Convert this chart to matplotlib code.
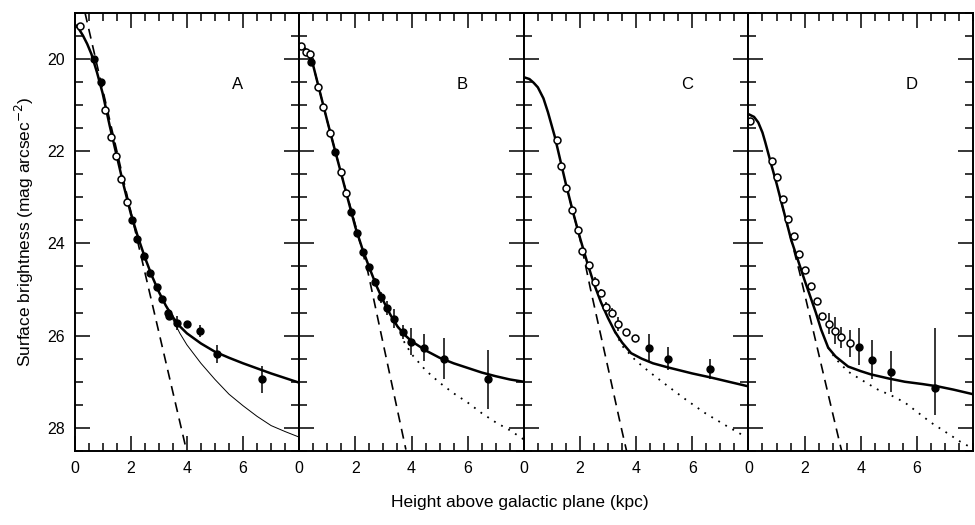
import numpy as np
import matplotlib.pyplot as plt
from matplotlib.ticker import MultipleLocator

plt.rcParams['font.family'] = ['Liberation Sans', 'DejaVu Sans']

panels = ['A', 'B', 'C', 'D']

# Data points (height in kpc, surface brightness in mag/arcsec^2)
# filled = 1 for filled circles, 0 for open
a_x = [0.18, 0.68, 0.93, 1.10, 1.28, 1.46, 1.67, 1.88, 2.06, 2.24, 2.46, 2.67, 2.92, 3.10, 3.31, 3.38, 3.63, 3.99, 4.45, 5.09, 6.69]
a_y = [19.30, 20.00, 20.50, 21.10, 21.70, 22.10, 22.60, 23.10, 23.50, 23.90, 24.28, 24.65, 24.95, 25.20, 25.50, 25.57, 25.72, 25.74, 25.90, 26.40, 26.95]
a_err = [0, 0, 0, 0, 0, 0, 0, 0, 0, 0, 0, 0, 0, 0, 0, 0, 0.15, 0.05, 0.12, 0.2, 0.3]
a_fill = [0, 1, 1, 0, 0, 0, 0, 0, 1, 1, 1, 1, 1, 1, 1, 1, 1, 1, 1, 1, 1]

b_x = [0.07, 0.25, 0.39, 0.43, 0.67, 0.85, 1.10, 1.28, 1.49, 1.67, 1.85, 2.06, 2.27, 2.50, 2.70, 2.92, 3.13, 3.36, 3.69, 3.98, 4.43, 5.14, 6.74]
b_y = [19.73, 19.86, 19.90, 20.07, 20.62, 21.05, 21.60, 22.03, 22.45, 22.90, 23.33, 23.77, 24.18, 24.52, 24.83, 25.17, 25.40, 25.63, 25.93, 26.13, 26.26, 26.50, 26.95]
b_err = [0, 0, 0, 0, 0, 0, 0, 0, 0, 0, 0, 0, 0, 0, 0.08, 0.12, 0.15, 0.2, 0.15, 0.3, 0.3, 0.45, 0.63]
b_fill = [0, 0, 0, 1, 0, 0, 0, 1, 0, 0, 1, 1, 1, 1, 1, 1, 1, 1, 1, 1, 1, 1, 1]

c_x = [1.18, 1.31, 1.50, 1.71, 1.93, 2.07, 2.32, 2.53, 2.75, 2.93, 3.14, 3.36, 3.64, 3.96, 4.46, 5.14, 6.64]
c_y = [21.77, 22.33, 22.80, 23.27, 23.72, 24.17, 24.48, 24.83, 25.07, 25.37, 25.50, 25.74, 25.93, 26.06, 26.26, 26.50, 26.72]
c_err = [0, 0, 0, 0, 0, 0, 0.08, 0.1, 0.08, 0.1, 0.1, 0.15, 0, 0, 0.3, 0.25, 0.22]
c_fill = [0, 0, 0, 0, 0, 0, 0, 0, 0, 0, 0, 0, 0, 0, 1, 1, 1]

d_x = [0.07, 0.85, 1.03, 1.24, 1.42, 1.63, 1.81, 2.02, 2.23, 2.45, 2.62, 2.87, 3.08, 3.30, 3.62, 3.94, 4.40, 5.07, 6.63]
d_y = [21.35, 22.22, 22.57, 23.03, 23.48, 23.85, 24.24, 24.58, 24.93, 25.26, 25.57, 25.74, 25.89, 26.04, 26.17, 26.24, 26.52, 26.78, 27.13]
d_err_lo = [0, 0, 0, 0, 0, 0, 0, 0, 0, 0, 0, 0.23, 0.3, 0.23, 0.29, 0.4, 0.42, 0.44, 1.3]
d_err_hi = [0, 0, 0, 0, 0, 0, 0, 0, 0, 0, 0, 0.23, 0.3, 0.23, 0.29, 0.4, 0.42, 0.44, 0.6]
d_fill = [0, 0, 0, 0, 0, 0, 0, 0, 0, 0, 0, 0, 0, 0, 0, 1, 1, 1, 1]

# Model curves
a_tot_x = [0.0, 0.15, 0.3, 0.45, 0.6, 0.8, 1.0, 1.25, 1.5, 1.75, 2.0, 2.25, 2.5, 2.75, 3.0, 3.25, 3.5, 3.75, 4.0, 4.5, 5.0, 5.5, 6.0, 6.5, 7.0, 7.5, 8.0]
a_tot_y = [19.25, 19.35, 19.5, 19.68, 19.9, 20.3, 20.75, 21.45, 22.1, 22.75, 23.35, 23.85, 24.3, 24.7, 25.05, 25.35, 25.6, 25.8, 25.95, 26.17, 26.35, 26.48, 26.6, 26.71, 26.82, 26.92, 27.02]
a_thin_x = [3.0, 3.25, 3.5, 3.75, 4.0, 4.5, 5.0, 5.5, 6.0, 6.5, 7.0, 7.5, 8.0]
a_thin_y = [25.05, 25.35, 25.65, 25.95, 26.2, 26.6, 26.95, 27.27, 27.52, 27.75, 27.95, 28.08, 28.2]
a_dash_x = [0.37, 2.3, 3.99]
a_dash_y = [19.0, 24.1, 28.5]

b_tot_x = [0.0, 0.15, 0.3, 0.5, 0.75, 1.0, 1.25, 1.5, 1.75, 2.0, 2.25, 2.5, 2.75, 3.0, 3.25, 3.5, 3.75, 4.0, 4.5, 5.0, 5.5, 6.0, 6.5, 7.0, 7.5, 8.0]
b_tot_y = [19.69, 19.74, 19.85, 20.15, 20.75, 21.35, 21.93, 22.5, 23.08, 23.65, 24.12, 24.53, 24.92, 25.25, 25.55, 25.8, 25.98, 26.12, 26.32, 26.48, 26.6, 26.7, 26.8, 26.88, 26.95, 27.0]
b_dot_x = [3.5, 3.75, 4.0, 4.5, 5.0, 5.5, 6.0, 6.5, 7.0, 7.5, 8.0]
b_dot_y = [25.8, 26.15, 26.4, 26.75, 27.02, 27.25, 27.45, 27.68, 27.88, 28.05, 28.25]
b_dash_x = [0.0, 0.3, 0.5, 1.0, 1.5, 2.0, 2.45, 3.0, 3.5, 3.8]
b_dash_y = [19.69, 19.85, 20.15, 21.35, 22.5, 23.6, 24.63, 26.2, 27.62, 28.47]

c_tot_x = [0.0, 0.2, 0.35, 0.5, 0.7, 0.86, 1.1, 1.3, 1.5, 1.75, 2.0, 2.25, 2.5, 2.75, 3.0, 3.25, 3.5, 3.82, 4.2, 4.6, 5.14, 6.0, 6.68, 7.3, 8.0]
c_tot_y = [20.4, 20.44, 20.52, 20.62, 20.86, 21.16, 21.68, 22.2, 22.72, 23.32, 23.88, 24.4, 24.88, 25.28, 25.62, 25.92, 26.15, 26.38, 26.5, 26.6, 26.69, 26.82, 26.91, 27.0, 27.1]
c_dot_x = [3.25, 3.5, 4.0, 4.5, 5.14, 5.8, 6.46, 7.2, 7.89]
c_dot_y = [25.92, 26.22, 26.55, 26.8, 27.1, 27.4, 27.68, 27.95, 28.19]
c_dash_x = [1.5, 1.75, 2.0, 2.36, 3.0, 3.46, 3.66]
c_dash_y = [22.72, 23.32, 23.9, 24.95, 26.7, 27.97, 28.5]

d_tot_x = [0.0, 0.2, 0.35, 0.5, 0.6, 0.83, 1.0, 1.17, 1.35, 1.52, 1.81, 2.0, 2.23, 2.4, 2.59, 2.84, 3.1, 3.55, 4.0, 4.36, 5.0, 5.57, 6.2, 6.74, 7.3, 8.0]
d_tot_y = [21.2, 21.26, 21.38, 21.6, 21.81, 22.33, 22.7, 23.1, 23.52, 23.92, 24.45, 24.8, 25.2, 25.5, 25.87, 26.26, 26.45, 26.67, 26.77, 26.84, 26.93, 27.0, 27.05, 27.1, 27.17, 27.27]
d_dot_x = [2.84, 3.1, 3.55, 4.0, 4.61, 5.1, 5.57, 6.0, 6.49, 7.0, 7.55, 8.0]
d_dot_y = [26.26, 26.5, 26.78, 26.95, 27.17, 27.3, 27.45, 27.65, 27.88, 28.08, 28.3, 28.45]
d_dash_x = [1.17, 1.52, 1.81, 2.13, 2.6, 3.08, 3.32]
d_dash_y = [23.1, 23.92, 24.6, 25.43, 26.65, 27.89, 28.5]

panel_x = [a_x, b_x, c_x, d_x]
panel_y = [a_y, b_y, c_y, d_y]
panel_err = [[a_err, a_err], [b_err, b_err], [c_err, c_err], [d_err_lo, d_err_hi]]
panel_fill = [a_fill, b_fill, c_fill, d_fill]
tot_x = [a_tot_x, b_tot_x, c_tot_x, d_tot_x]
tot_y = [a_tot_y, b_tot_y, c_tot_y, d_tot_y]
dash_x = [a_dash_x, b_dash_x, c_dash_x, d_dash_x]
dash_y = [a_dash_y, b_dash_y, c_dash_y, d_dash_y]
dot_x = [a_thin_x, b_dot_x, c_dot_x, d_dot_x]
dot_y = [a_thin_y, b_dot_y, c_dot_y, d_dot_y]

fig = plt.figure(figsize=(9.75, 5.25), dpi=100)
axes = fig.subplots(1, 4, sharey=True, gridspec_kw=dict(wspace=0))
fig.subplots_adjust(left=0.0765, right=0.998, top=0.976, bottom=0.141)

for i, ax in enumerate(axes):
    ax.plot(tot_x[i], tot_y[i], color='black', lw=1.8)
    ax.plot(dash_x[i], dash_y[i], color='black', lw=1.2, dashes=(6, 4))
    if i == 0:
        ax.plot(dot_x[i], dot_y[i], color='black', lw=0.7)
    else:
        ax.plot(dot_x[i], dot_y[i], color='black', lw=1.3, dashes=(1, 3.5))

    x = np.array(panel_x[i])
    y = np.array(panel_y[i])
    lo = np.array(panel_err[i][0])
    hi = np.array(panel_err[i][1])
    f = np.array(panel_fill[i]) == 1
    ax.errorbar(x, y, yerr=[lo, hi], fmt='none', ecolor='black', elinewidth=1.1)
    ax.plot(x[f], y[f], 'o', ms=5, color='black')
    ax.plot(x[~f], y[~f], 'o', ms=5, mfc='white', mec='black', mew=1.1)

    ax.text(5.8, 20.55, panels[i], fontsize=12, ha='center', va='center')

    ax.set_xlim(0, 8)
    ax.set_ylim(28.5, 19.0)
    ax.set_xticks([0, 2, 4, 6])
    ax.xaxis.set_minor_locator(MultipleLocator(0.5))
    ax.yaxis.set_major_locator(MultipleLocator(2))
    ax.yaxis.set_minor_locator(MultipleLocator(0.5))
    ax.tick_params(which='both', direction='in', top=True, right=True, width=1.1,
                   labelsize=11.5, pad=7)
    ax.tick_params(which='major', length=11)
    ax.tick_params(which='minor', length=6)
    for s in ax.spines.values():
        s.set_linewidth(1.4)

axes[0].set_ylabel('Surface brightness (mag arcsec$^{-2}$)', fontsize=12.5, labelpad=8)
fig.text(0.533, 0.035, 'Height above galactic plane (kpc)', fontsize=12.5, ha='center')

fig.savefig('out.png', dpi=100)
